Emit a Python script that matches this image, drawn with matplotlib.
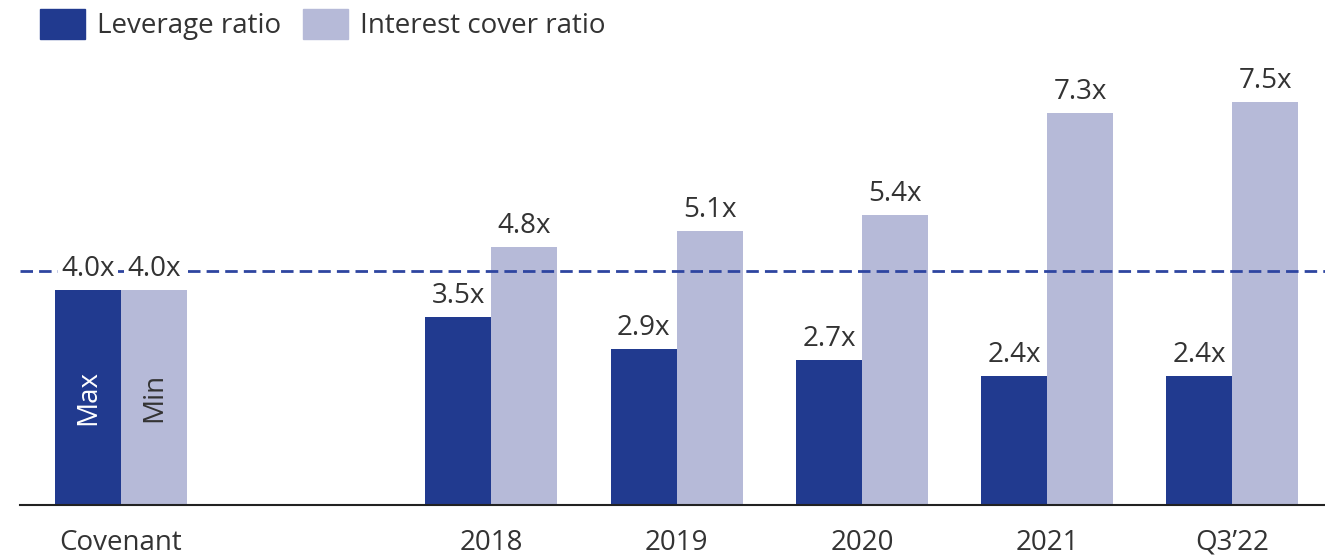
import matplotlib.pyplot as plt
from matplotlib.patches import Patch

plt.rcParams['font.family'] = ['Open Sans', 'DejaVu Sans']

categories = ['Covenant', '2018', '2019', '2020', '2021', 'Q3\u201922']
leverage = [4.0, 3.5, 2.9, 2.7, 2.4, 2.4]
interest_cover = [4.0, 4.8, 5.1, 5.4, 7.3, 7.5]
covenant_text = ['Max', 'Min']
threshold = 4.36

DARK = '#213a8f'
LIGHT = '#b6bad8'
TEXT = '#333333'
FS = 20

# covenant group sits apart from the yearly groups
xpos = [0, 2, 3, 4, 5, 6]
w = 0.356

fig = plt.figure(figsize=(13.25, 5.56), dpi=100)
ax = fig.add_axes([20 / 1325, 51 / 556, 1305 / 1325, 505 / 556])

ax.bar([x - w / 2 for x in xpos], leverage, w, color=DARK, zorder=2)
ax.bar([x + w / 2 for x in xpos], interest_cover, w, color=LIGHT, zorder=2)

ax.axhline(threshold, color='#2e45a0', lw=2, ls=(0, (4.5, 2.2)), zorder=3)

for x, lv, ic in zip(xpos, leverage, interest_cover):
    for xx, v in ((x - w / 2, lv), (x + w / 2, ic)):
        ax.annotate(f'{v:.1f}x', (xx, v), xytext=(0, 5), textcoords='offset points',
                    ha='center', va='bottom', fontsize=FS, color=TEXT, zorder=4,
                    bbox=dict(boxstyle='square,pad=0.12', fc='white', ec='none'))

ax.text(xpos[0] - w / 2, leverage[0] / 2, covenant_text[0], rotation=90, ha='center',
        va='center', fontsize=FS, color='white', zorder=4)
ax.text(xpos[0] + w / 2, interest_cover[0] / 2, covenant_text[1], rotation=90, ha='center',
        va='center', fontsize=FS, color=TEXT, zorder=4)

ax.set_xlim(-0.545, 6.5)
ax.set_ylim(0, 9.4)
ax.set_xticks(xpos)
ax.set_xticklabels(categories, fontsize=FS, color=TEXT)
ax.tick_params(axis='x', length=0, pad=17)
ax.set_yticks([])
for side in ('top', 'right', 'left'):
    ax.spines[side].set_visible(False)
ax.spines['bottom'].set_linewidth(1.5)
ax.spines['bottom'].set_color('#222222')

handles = [Patch(color=DARK, label='Leverage ratio'),
           Patch(color=LIGHT, label='Interest cover ratio')]
leg = fig.legend(handles=handles, loc='upper left', bbox_to_anchor=(40 / 1325, 1 - 9 / 556),
                 ncol=2, frameon=False, fontsize=FS, handlelength=1.62,
                 handleheight=1.3, handletextpad=0.43, columnspacing=0.8,
                 borderpad=0, borderaxespad=0)
for t in leg.get_texts():
    t.set_color(TEXT)

fig.savefig('out.png', dpi=100)
